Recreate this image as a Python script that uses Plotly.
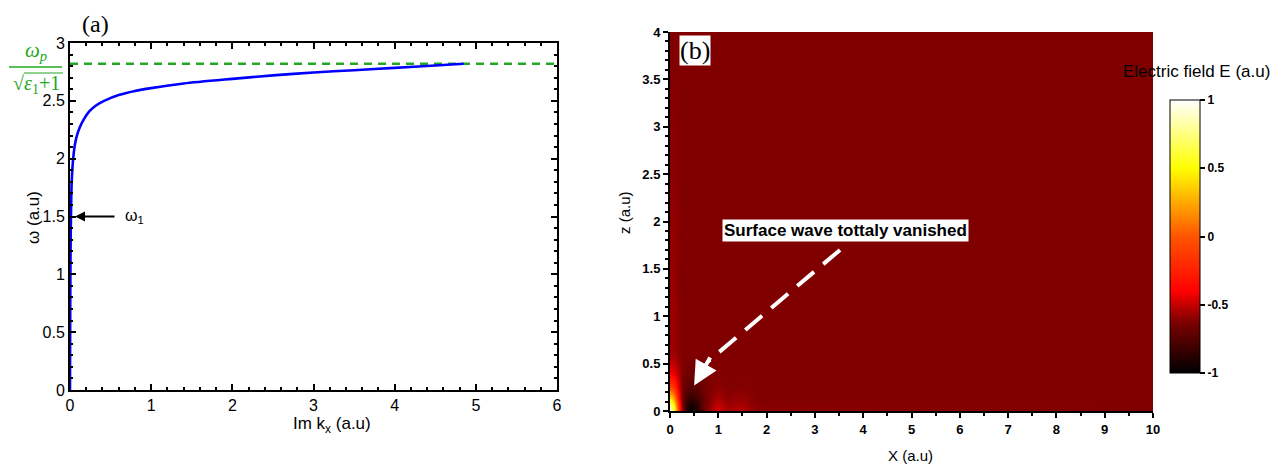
import plotly.graph_objects as go

# ---------- panel (a) data ----------
im_kx = [0.0, 0.002, 0.005, 0.009, 0.014, 0.02, 0.03, 0.042, 0.06, 0.085, 0.12, 0.17, 0.24, 0.32,
         0.42, 0.6, 0.8, 1.0, 1.4, 2.0, 2.5, 3.0, 3.5, 4.0, 4.5, 4.85]
omega = [0.0, 0.5, 1.0, 1.35, 1.6, 1.78, 1.92, 2.02, 2.12, 2.2, 2.27, 2.34, 2.41, 2.46,
         2.5, 2.55, 2.585, 2.61, 2.65, 2.69, 2.72, 2.745, 2.765, 2.785, 2.805, 2.82]
asym_x = [0, 6]
asym_y = [2.82, 2.82]

# ---------- panel (b) data ----------
x_grid = [0, 0.08, 0.16, 0.25, 0.35, 0.45, 0.55, 0.7, 0.85, 1.0, 1.2, 1.5, 1.8, 10]
z_grid = [0, 0.06, 0.14, 0.25, 0.4, 0.6, 4]
field = [
    [0.95, 0.6, -0.05, -0.6, -0.9, -0.98, -0.9, -0.68, -0.55, -0.48, -0.55, -0.52, -0.6, -0.62],
    [0.8, 0.45, -0.12, -0.62, -0.88, -0.95, -0.87, -0.68, -0.57, -0.5, -0.57, -0.55, -0.61, -0.62],
    [0.4, 0.2, -0.28, -0.66, -0.8, -0.84, -0.8, -0.68, -0.6, -0.55, -0.6, -0.58, -0.62, -0.62],
    [-0.08, -0.18, -0.45, -0.64, -0.72, -0.74, -0.72, -0.66, -0.62, -0.6, -0.62, -0.61, -0.62, -0.62],
    [-0.42, -0.45, -0.53, -0.62, -0.66, -0.67, -0.66, -0.64, -0.62, -0.62, -0.62, -0.62, -0.62, -0.62],
    [-0.57, -0.57, -0.6, -0.62, -0.62, -0.62, -0.62, -0.62, -0.62, -0.62, -0.62, -0.62, -0.62, -0.62],
    [-0.62] * 14,
]
cbar_ticks = [-1, -0.5, 0, 0.5, 1]
cbar_ticktext = ["-1", "-0.5", "0", "0.5", "1"]

# page body has an 8px margin; figure is sized so it fits the window
OFF = 8
W, H = 1281 - OFF, 470 - OFF
def px(x): return (x - OFF) / W
def py(y): return 1 - (y - OFF) / H

colorscale = [
    [0.0, "#000000"],
    [0.19, "#800000"],
    [0.3, "#ff0000"],
    [0.5, "#ff5500"],
    [0.75, "#ffff00"],
    [1.0, "#ffffff"],
]

fig = go.Figure()

fig.add_trace(go.Scatter(x=asym_x, y=asym_y, mode="lines",
                         line=dict(color="#22a822", width=2.5, dash="8px,6px"),
                         xaxis="x", yaxis="y", showlegend=False, hoverinfo="skip"))
fig.add_trace(go.Scatter(x=im_kx, y=omega, mode="lines", line=dict(color="#0000ff", width=2.6, shape="spline", smoothing=0.8),
                         xaxis="x", yaxis="y", showlegend=False))

fig.add_trace(go.Heatmap(x=x_grid, y=z_grid, z=field, zmin=-1, zmax=1, zsmooth="best",
                         colorscale=colorscale, xaxis="x2", yaxis="y2",
                         colorbar=dict(x=px(1170), xanchor="left", y=py(236.5), yanchor="middle",
                                       len=273 / H, lenmode="fraction", thickness=30,
                                       outlinecolor="black", outlinewidth=1,
                                       tickvals=cbar_ticks, ticktext=cbar_ticktext,
                                       ticks="outside", ticklen=5, tickwidth=1.5, tickcolor="black",
                                       tickfont=dict(family="Liberation Sans", size=12, color="black", weight="bold"),
                                       ypad=0, xpad=0)))

axis_a = dict(showline=True, linecolor="black", linewidth=2, mirror="ticks",
              ticks="inside", ticklen=6, tickwidth=2, tickcolor="black",
              tickfont=dict(family="Liberation Sans", size=16, color="black"),
              showgrid=False, zeroline=False, automargin=False)
fig.update_layout(
    width=W, height=H, margin=dict(l=0, r=0, t=0, b=0),
    plot_bgcolor="white", paper_bgcolor="white",
    xaxis=dict(domain=[px(70), px(557)], range=[0, 6], dtick=1, anchor="y",
               minor=dict(dtick=0.2, ticks="inside", ticklen=3, tickwidth=2, tickcolor="black"),
               **axis_a),
    yaxis=dict(domain=[py(390), py(43)], range=[0, 3], dtick=0.5, anchor="x",
               minor=dict(dtick=0.1, ticks="inside", ticklen=3, tickwidth=2, tickcolor="black"),
               **axis_a),
    xaxis2=dict(domain=[px(670), px(1153)], range=[0, 10], dtick=1, anchor="y2",
                showline=True, linecolor="black", linewidth=2, mirror=False, automargin=False,
                ticks="outside", ticklen=5, tickwidth=2, tickcolor="black",
                minor=dict(dtick=0.5, ticks="outside", ticklen=3, tickwidth=2, tickcolor="black"),
                tickfont=dict(family="Liberation Sans", size=13, color="black", weight="bold"),
                showgrid=False, zeroline=False),
    yaxis2=dict(domain=[py(411), py(32)], range=[0, 4], dtick=0.5, anchor="x2",
                showline=True, linecolor="black", linewidth=2, mirror=False, automargin=False,
                ticks="outside", ticklen=5, tickwidth=2, tickcolor="black",
                minor=dict(dtick=0.1, ticks="outside", ticklen=3, tickwidth=2, tickcolor="black"),
                tickfont=dict(family="Liberation Sans", size=13, color="black", weight="bold"),
                showgrid=False, zeroline=False),
)

green = "#22a822"
C = dict(xanchor="center", yanchor="middle")
P = dict(xref="paper", yref="paper", showarrow=False)
annotations = [
    dict(text="(a)", x=px(95), y=py(24), borderpad=0, font=dict(family="Liberation Serif", size=24, color="black"), **P, **C),
    dict(text="(b)", x=px(695), y=py(50), bgcolor="white",
         font=dict(family="Liberation Serif", size=26, color="black"), borderpad=0, **P, **C),
    dict(text="<i>ω<sub>p</sub></i>", x=px(36), y=py(51), font=dict(family="Liberation Serif", size=21, color=green), **P, **C),
    dict(text="√<i>ε</i><sub>1</sub>+1", x=px(36), y=py(85), font=dict(family="Liberation Serif", size=20, color=green), **P, **C),
    dict(text="", x=0.0, y=1.5, xref="x", yref="y", ax=46, ay=0, axref="pixel", ayref="pixel",
         showarrow=True, arrowhead=2, arrowsize=1, arrowwidth=2, arrowcolor="black", standoff=5),
    dict(text="ω<sub>1</sub>", x=px(134), y=py(216), font=dict(family="Liberation Sans", size=16, color="black"), **P, **C),
    dict(text="Im k<sub>x</sub> (a.u)", x=px(332), y=py(425), font=dict(family="Liberation Sans", size=17, color="black"), **P, **C),
    dict(text="ω (a.u)", x=px(33), y=py(218), textangle=-90, font=dict(family="Liberation Sans", size=17, color="black"), **P, **C),
    dict(text="X (a.u)", x=px(911), y=py(455), font=dict(family="Liberation Sans", size=15, color="black"), **P, **C),
    dict(text="z (a.u)", x=px(624), y=py(213), textangle=-90, font=dict(family="Liberation Sans", size=15, color="black"), **P, **C),
    dict(text="<b>Surface wave tottaly vanished</b>", x=px(845), y=py(231), bgcolor="white", borderpad=1,
         font=dict(family="Liberation Sans", size=17, color="black"), **P, **C),
    dict(text="", x=0.5, y=0.27, xref="x2", yref="y2", ax=0.85, ay=0.58, axref="x2", ayref="y2",
         showarrow=True, arrowhead=2, arrowsize=1.2, arrowwidth=4, arrowcolor="white"),
    dict(text="Electric field E (a.u)", x=px(1196), y=py(72), font=dict(family="Liberation Sans", size=17, color="black"), **P, **C),
]
fig.update_layout(annotations=annotations)

shapes = [
    dict(type="line", xref="paper", yref="paper", x0=px(9), x1=px(62), y0=py(67), y1=py(67),
         line=dict(color=green, width=1.5)),
    dict(type="line", xref="paper", yref="paper", x0=px(24), x1=px(63), y0=py(73), y1=py(73),
         line=dict(color=green, width=1.2)),
    dict(type="line", xref="x2", yref="y2", x0=3.52, y0=1.70, x1=0.78, y1=0.52,
         line=dict(color="white", width=4, dash="22px,12px")),
]
fig.update_layout(shapes=shapes)

fig.write_html("out.html")
